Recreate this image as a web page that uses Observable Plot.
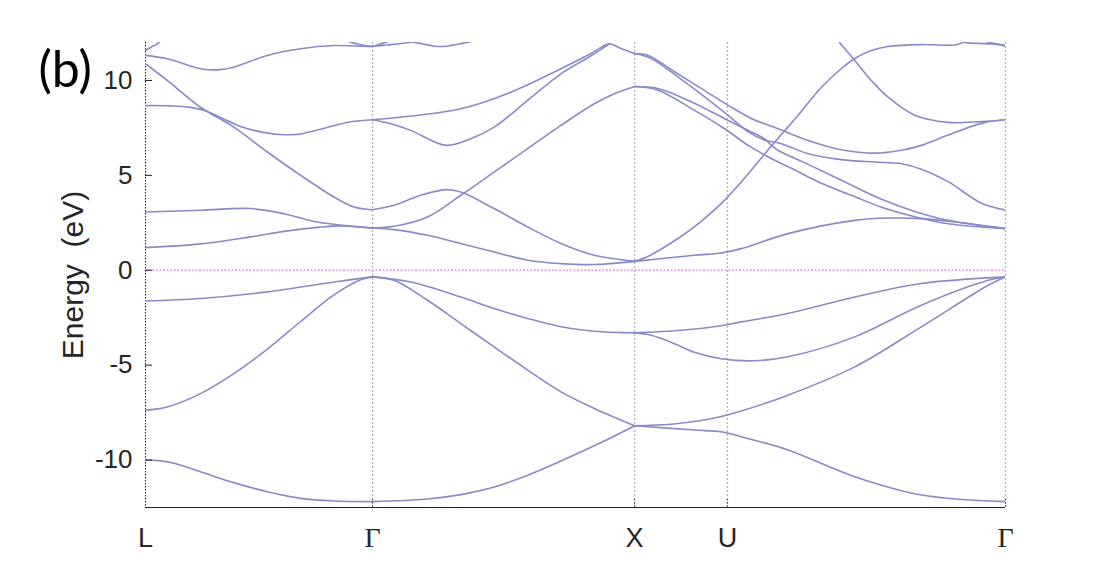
<!DOCTYPE html>
<html><head><meta charset="utf-8">
<script src="https://cdn.jsdelivr.net/npm/d3@7"></script>
<script src="https://cdn.jsdelivr.net/npm/@observablehq/plot@0.6"></script>
<style>body{margin:0;background:#fff}</style>
</head><body><div id="chart"></div>
<script>
// high-symmetry points (path length, 2π/a units)
const kTicks = [0, 0.866, 1.866, 2.220, 3.281];
const kLabels = ["L", "Γ", "X", "U", "Γ"];
const yTicks = [-10, -5, 0, 5, 10];

// bands: [k, E(eV)]
const lgTopUp = [[0,11.58],[0.019,11.74],[0.045,11.93],[0.057,12.11]];
const lgTop = [[0,11.32],[0.083,11.14],[0.210,10.62],[0.274,10.56],[0.337,10.70],[0.465,11.32],[0.592,11.67],[0.719,11.84],[0.866,11.80],[0.923,11.87],[1.006,12.0],[1.05,12.11]];
const gTopV = [[0.764,12.11],[0.791,11.98],[0.829,11.86],[0.866,11.80],[0.909,11.98],[0.94,12.11]];
const gxTopU = [[0.993,12.11],[1.038,11.98],[1.127,11.79],[1.216,11.98],[1.261,12.11]];
const lgS1 = [[0,10.88],[0.083,10.0],[0.210,8.59],[0.337,7.54],[0.465,6.23],[0.592,5.0],[0.719,3.86],[0.796,3.33],[0.866,3.19]];
const lgM1 = [[0,8.68],[0.095,8.66],[0.172,8.58],[0.236,8.37],[0.294,8.0],[0.363,7.58],[0.439,7.29],[0.528,7.14],[0.592,7.18],[0.656,7.39],[0.783,7.82],[0.866,7.93]];
const lgM2 = [[0,3.07],[0.210,3.16],[0.401,3.25],[0.528,2.98],[0.656,2.54],[0.783,2.32],[0.866,2.23]];
const lgM3 = [[0,1.19],[0.210,1.39],[0.401,1.76],[0.528,2.05],[0.656,2.26],[0.745,2.34],[0.866,2.23]];
const lgV1 = [[0,-1.62],[0.210,-1.49],[0.465,-1.14],[0.719,-0.62],[0.866,-0.35]];
const lgV2 = [[0,-7.37],[0.083,-7.20],[0.210,-6.50],[0.337,-5.45],[0.465,-4.15],[0.592,-2.70],[0.719,-1.30],[0.821,-0.50],[0.866,-0.35]];
const lgV3 = [[0,-10.0],[0.050,-10.03],[0.108,-10.17],[0.210,-10.62],[0.337,-11.19],[0.465,-11.67],[0.592,-12.02],[0.719,-12.16],[0.866,-12.19]];

const gxB4 = [[0.866,7.93],[1.203,8.51],[1.394,9.38],[1.585,10.62],[1.700,11.42],[1.770,11.93],[1.814,11.68],[1.866,11.42]];
const gxB5 = [[0.866,7.93],[0.936,7.72],[1.012,7.37],[1.146,6.58],[1.241,6.93],[1.330,7.54],[1.458,8.95],[1.585,10.35],[1.700,11.30],[1.770,11.93]];
const gxB1 = [[0.866,3.19],[0.948,3.42],[1.050,3.95],[1.146,4.25],[1.203,4.12],[1.330,3.25],[1.458,2.28],[1.585,1.41],[1.712,0.79],[1.866,0.47]];
const gxB2 = [[0.866,2.23],[0.948,2.32],[1.076,2.81],[1.203,3.95],[1.330,5.17],[1.458,6.41],[1.585,7.63],[1.712,8.77],[1.789,9.30],[1.866,9.68]];
const gxB3 = [[0.866,2.23],[0.948,2.14],[1.076,1.84],[1.203,1.41],[1.330,0.96],[1.458,0.53],[1.585,0.35],[1.712,0.30],[1.866,0.47]];
const gxV4 = [[0.866,-0.35],[0.948,-0.53],[1.076,-1.58],[1.203,-2.81],[1.330,-4.04],[1.458,-5.26],[1.585,-6.41],[1.712,-7.28],[1.866,-8.19]];
const gxV5 = [[0.866,-0.35],[1.012,-0.62],[1.203,-1.41],[1.330,-2.02],[1.458,-2.54],[1.585,-2.98],[1.712,-3.21],[1.866,-3.30]];
const gxV6 = [[0.866,-12.19],[1.076,-12.05],[1.203,-11.82],[1.330,-11.42],[1.458,-10.80],[1.585,-10.05],[1.738,-9.08],[1.866,-8.19]];

const xgA = [[1.866,11.42],[1.916,11.33],[2.018,10.46],[2.120,9.58],[2.222,8.70],[2.311,8.0],[2.399,7.53],[2.528,6.84],[2.655,6.35],[2.782,6.17],[2.884,6.32],[2.960,6.58],[3.062,7.12],[3.189,7.74],[3.281,7.93]];
const xgB = [[1.866,11.42],[1.929,11.16],[2.031,10.19],[2.133,9.14],[2.222,8.17],[2.298,7.30],[2.362,6.86],[2.426,6.67],[2.528,6.14],[2.655,5.83],[2.782,5.70],[2.884,5.61],[2.960,5.32],[3.062,4.67],[3.189,3.53],[3.281,3.17]];
const xgC = [[1.866,9.68],[1.955,9.58],[2.082,8.88],[2.208,8.0],[2.298,7.38],[2.362,6.92],[2.387,6.60],[2.413,6.32],[2.528,5.58],[2.655,4.74],[2.808,3.74],[2.935,3.10],[3.062,2.63],[3.281,2.21]];
const xgD = [[1.866,9.68],[1.955,9.49],[2.082,8.53],[2.208,7.47],[2.298,6.59],[2.387,5.89],[2.464,5.37],[2.578,4.58],[2.693,3.95],[2.808,3.32],[2.935,2.82],[3.062,2.45],[3.281,2.19]];
const xgSteep = [[1.866,0.47],[1.910,0.68],[1.967,1.11],[2.044,1.79],[2.120,2.58],[2.196,3.51],[2.273,4.65],[2.387,6.53],[2.502,8.37],[2.578,9.63],[2.655,10.63],[2.706,11.16],[2.769,11.58],[2.833,11.79],[2.960,11.89],[3.087,11.87],[3.113,11.97],[3.123,12.03],[3.132,11.99],[3.228,11.92],[3.281,11.82]];
const xgTopIn = [[3.200,12.08],[3.221,12.0],[3.281,11.85]];
const xgDesc = [[2.636,12.21],[2.648,12.0],[2.706,11.05],[2.769,10.0],[2.833,9.12],[2.935,8.17],[3.062,7.79],[3.189,7.83],[3.281,7.93]];
const xgGentle = [[1.866,0.47],[2.094,0.79],[2.196,0.91],[2.273,1.14],[2.451,1.93],[2.706,2.63],[2.833,2.75],[2.960,2.72],[3.062,2.58],[3.281,2.19]];
const xgV7 = [[1.866,-3.30],[2.044,-3.16],[2.196,-2.92],[2.273,-2.72],[2.451,-2.28],[2.706,-1.41],[2.960,-0.70],[3.281,-0.35]];
const xgV8 = [[1.866,-3.30],[1.929,-3.42],[2.005,-3.79],[2.094,-4.32],[2.196,-4.66],[2.324,-4.77],[2.451,-4.56],[2.706,-3.51],[2.960,-1.84],[3.215,-0.53],[3.281,-0.35]];
const xgV9 = [[1.866,-8.19],[2.005,-8.11],[2.120,-7.92],[2.196,-7.71],[2.273,-7.42],[2.451,-6.58],[2.706,-5.09],[2.960,-2.98],[3.215,-0.79],[3.281,-0.35]];
const xgV10 = [[1.866,-8.19],[2.094,-8.42],[2.196,-8.51],[2.273,-8.77],[2.451,-9.47],[2.706,-10.88],[2.960,-11.84],[3.281,-12.19]];

const bands = [lgTopUp, lgTop, gTopV, gxTopU, lgS1, lgM1, lgM2, lgM3, lgV1, lgV2, lgV3,
  gxB4, gxB5, gxB1, gxB2, gxB3, gxV4, gxV5, gxV6,
  xgA, xgB, xgC, xgD, xgSteep, xgTopIn, xgDesc, xgGentle, xgV7, xgV8, xgV9, xgV10];
const rows = bands.flatMap((b, i) => b.map(([k, E]) => ({k, E, band: i})));

const gridK = kTicks.slice(1);
const sansK = kTicks.filter((_, i) => kLabels[i] !== "Γ");
const greekK = kTicks.filter((_, i) => kLabels[i] === "Γ");
const labelOf = k => kLabels[kTicks.indexOf(k)];

const chart = Plot.plot({
  width: 1110, height: 571,
  marginLeft: 145, marginRight: 105, marginTop: 42, marginBottom: 64,
  x: {domain: [0, 3.281], axis: null},
  y: {domain: [-12.5, 12], axis: null},
  style: {fontFamily: "'Liberation Sans', Arial, sans-serif", background: "#fff", overflow: "visible"},
  marks: [
    Plot.ruleX(gridK, {stroke: "#b8b8b8", strokeWidth: 1.4, strokeDasharray: "2,2"}),
    Plot.ruleY([0], {stroke: "#e4a8e6", strokeWidth: 2, strokeDasharray: "2,1.6"}),
    Plot.ruleX([0], {stroke: "#222", strokeWidth: 1, strokeDasharray: "1.5,1.5"}),
    Plot.line(rows, {x: "k", y: "E", z: "band", stroke: "#8a8ac6", strokeWidth: 1.6, curve: "catmull-rom", clip: true}),
    Plot.ruleY([-12.5], {stroke: "#222", strokeWidth: 1.2}),
    Plot.axisX(gridK, {anchor: "bottom", tickSize: 8, dy: -8, tickFormat: () => "", stroke: "#444", strokeDasharray: "1.5,1.5", label: null}),
    Plot.axisY(yTicks, {anchor: "left", tickSize: 7, dx: 7, tickFormat: () => "", stroke: "#222", label: null}),
    Plot.axisY(yTicks, {anchor: "left", tickSize: 0, tickPadding: 13, fontSize: 26, fill: "#262626", tickFormat: d => String(d), label: null}),
    Plot.axisX(sansK, {anchor: "bottom", tickSize: 0, tickPadding: 20, fontSize: 27, fill: "#262626", tickFormat: labelOf, label: null}),
    Plot.axisX(greekK, {anchor: "bottom", tickSize: 0, tickPadding: 20, fontSize: 28, fill: "#262626", fontFamily: "'Liberation Serif', 'Times New Roman', serif", tickFormat: labelOf, label: null}),
    Plot.text(["Energy\u00a0\u00a0(eV)"], {frameAnchor: "left", dx: -63, rotate: -90, fontSize: 30, fill: "#262626", textAnchor: "middle", lineAnchor: "bottom"}),
    Plot.text(["(b)"], {frameAnchor: "top-left", dx: -107, dy: 44, fontSize: 50, fontFamily: "Lato, 'Open Sans', sans-serif", fill: "#000", textAnchor: "start", lineAnchor: "bottom"})
  ]
});
document.getElementById("chart").appendChild(chart);
</script>
</body></html>
